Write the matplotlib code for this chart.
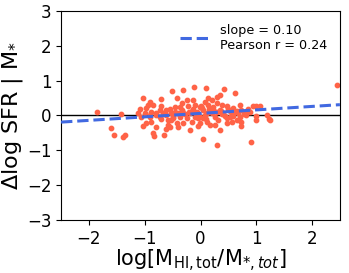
import matplotlib
matplotlib.use('Agg')
import matplotlib.pyplot as plt
import numpy as np

# gas fraction vs SFR offset
log_fhi = [2.45, -1.86, -1.43, -1.60, -1.55, -1.39, -1.36, -1.03, -0.51, -0.32,
           -0.11, 0.09, 0.43, 0.14, 0.29, 0.35, 0.61, 0.05, 0.29, 0.90,
           0.35, 1.23, 1.25, 1.19, 1.00, 0.94, 1.00, 1.06, 0.70, 0.47,
           0.73, 0.82, 0.79, 0.59, 0.65, 0.73, 0.73, 0.57, 0.47, 0.41,
           0.35, 0.53, 0.23, 0.14, 0.29, 0.20, 0.26, 0.11, 0.17, -0.04,
           -0.01, -0.07, -0.13, -0.10, -0.01, 0.05, -0.19, -0.25, -0.16, -0.31,
           -0.37, -0.34, -0.34, -0.46, -0.43, -0.52, -0.58, -0.58, -0.62, -0.66,
           -0.61, -0.70, -0.67, -0.73, -0.79, -0.85, -0.84, -0.88, -0.91, -0.86,
           -0.94, -0.91, -1.00, -1.03, -1.09, -1.12, -1.06, -0.97, -0.55, -0.40,
           -0.19, -0.04, 0.08, -0.10, -0.22, -0.37, -0.31, -0.49, -0.79, -0.73,
           0.47, 0.53, 0.67, 0.59, 0.32, 0.26, 1.00, 0.88, 0.08, 0.20,
           -0.25, -0.43, -0.71, -0.13, -0.01, 0.38, 0.05, -0.52, -0.88, -0.97,
           -0.80, -0.62, -0.45, -0.28, -0.15, 0.02, 0.12, 0.24, 0.38, 0.50,
           0.62, 0.78, -0.70, -0.50, -0.33, -0.05, 0.15, 0.30, 0.44, 0.66,
           -0.90, -0.40, 0.00, 0.36, 0.56, 0.85, -0.20, 0.10, -0.55, 0.70]
dsfr = [0.87, 0.11, 0.04, -0.37, -0.57, -0.61, -0.55, 0.50, 0.71, 0.73,
        0.82, 0.79, 0.77, 0.51, 0.52, 0.60, 0.64, -0.67, -0.85, -0.75,
        -0.42, -0.10, -0.13, 0.00, -0.13, 0.27, 0.28, 0.26, 0.30, 0.27,
        0.16, 0.01, 0.11, -0.01, -0.13, -0.18, -0.30, -0.18, -0.08, 0.06,
        0.16, 0.14, 0.25, 0.30, 0.35, 0.06, -0.03, -0.18, -0.27, -0.30,
        -0.03, 0.11, 0.20, 0.30, 0.25, 0.16, 0.06, -0.08, -0.18, -0.23,
        -0.03, 0.16, 0.35, 0.25, -0.23, 0.06, -0.13, -0.27, -0.40, -0.56,
        0.16, 0.27, 0.06, -0.03, -0.32, -0.49, -0.59, -0.18, -0.03, 0.30,
        0.30, 0.40, 0.06, -0.30, 0.18, 0.06, -0.03, -0.21, -0.32, -0.32,
        -0.42, -0.08, 0.01, -0.03, 0.27, 0.25, 0.06, -0.03, 0.01, 0.16,
        -0.23, -0.03, 0.06, 0.21, -0.13, -0.27, -0.01, 0.11, 0.40, 0.44,
        0.44, 0.49, 0.46, 0.44, -0.23, 0.30, -0.08, -0.13, 0.11, 0.21,
        0.08, 0.02, 0.10, 0.04, 0.12, 0.22, 0.08, 0.14, 0.05, 0.18,
        0.09, 0.03, -0.10, -0.06, 0.12, 0.04, 0.20, 0.10, -0.02, 0.12,
        0.00, 0.08, 0.28, 0.14, 0.02, 0.20, 0.10, -0.10, 0.20, -0.05]

slope = 0.10
intercept = 0.06
pearson_r = 0.24

fig = plt.figure(figsize=(3.49, 2.73), dpi=100)
ax = fig.add_axes([0.175, 0.194, 0.799, 0.766])

ax.scatter(log_fhi, dsfr, s=10, color='tomato', zorder=2)
ax.axhline(0, color='k', lw=1, zorder=1)

xx = np.array([-2.5, 2.5])
ax.plot(xx, slope * xx + intercept, '--', color='royalblue', lw=2.2, zorder=3,
        label='slope = %.2f\nPearson r = %.2f' % (slope, pearson_r))

ax.set_xlim(-2.5, 2.5)
ax.set_ylim(-3, 3)
ax.set_xticks([-2, -1, 0, 1, 2])
ax.tick_params(labelsize=12)
ax.set_xlabel(r'log[M$_{\rm HI, tot}$/M$_{*, tot}$]', fontsize=15, labelpad=0)
ax.set_ylabel(r'$\Delta$log SFR | M$_{*}$', fontsize=16, labelpad=1)
ax.legend(loc='upper right', frameon=False, fontsize=9.2, handlelength=2.2,
          handletextpad=0.9, borderaxespad=0.6, labelspacing=0.1)

plt.savefig('out.png', dpi=100)
